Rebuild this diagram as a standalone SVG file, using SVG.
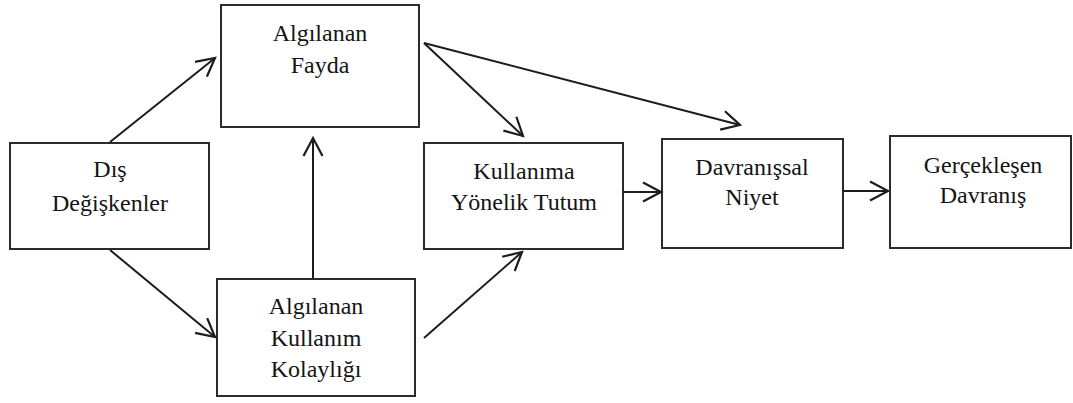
<svg xmlns="http://www.w3.org/2000/svg" width="1073" height="403" viewBox="0 0 1073 403">
  <style>
    .box { fill: #ffffff; stroke: #2b2b2b; stroke-width: 2; }
    .lbl { font-size: 24px; fill: #141414; text-anchor: middle; }
    .edge { fill: none; stroke: #1c1c1c; stroke-width: 2; marker-end: url(#head); }
  </style>
  <defs>
    <marker id="head" markerUnits="userSpaceOnUse" markerWidth="24" markerHeight="24" viewBox="-20 -12 24 24" refX="0" refY="0" orient="auto">
      <path d="M -18 -9.5 L 0 0 L -18 9.5" fill="none" stroke="#1c1c1c" stroke-width="2.2" stroke-linejoin="miter"/>
    </marker>
  </defs>
  <rect width="1073" height="403" fill="#ffffff"/>

  <g font-family="'Liberation Serif', 'Times New Roman', 'DejaVu Serif', serif">
    <g id="dis-degiskenler">
      <rect class="box" x="10" y="143" width="199" height="106"/>
      <text class="lbl" x="110" y="177">Dış</text>
      <text class="lbl" x="110" y="211">Değişkenler</text>
    </g>

    <g id="algilanan-fayda">
      <rect class="box" x="221" y="5" width="198" height="122"/>
      <text class="lbl" x="320" y="41">Algılanan</text>
      <text class="lbl" x="320" y="73">Fayda</text>
    </g>

    <g id="algilanan-kullanim-kolayligi">
      <rect class="box" x="217" y="279" width="198" height="117"/>
      <text class="lbl" x="316" y="314">Algılanan</text>
      <text class="lbl" x="316" y="346">Kullanım</text>
      <text class="lbl" x="316" y="377">Kolaylığı</text>
    </g>

    <g id="kullanima-yonelik-tutum">
      <rect class="box" x="424" y="143" width="199" height="106"/>
      <text class="lbl" x="524" y="179">Kullanıma</text>
      <text class="lbl" x="524" y="210">Yönelik Tutum</text>
    </g>

    <g id="davranissal-niyet">
      <rect class="box" x="662" y="139" width="181" height="109"/>
      <text class="lbl" x="752" y="175">Davranışsal</text>
      <text class="lbl" x="752" y="205">Niyet</text>
    </g>

    <g id="gerceklesen-davranis">
      <rect class="box" x="890" y="136" width="181" height="112"/>
      <text class="lbl" x="983" y="173">Gerçekleşen</text>
      <text class="lbl" x="983" y="203">Davranış</text>
    </g>
  </g>

  <g id="connectors">
    <line class="edge" x1="110" y1="142" x2="215" y2="58"/>
    <line class="edge" x1="110" y1="250" x2="215" y2="337"/>
    <line class="edge" x1="313" y1="278" x2="313" y2="138"/>
    <line class="edge" x1="424" y1="43" x2="523" y2="136"/>
    <line class="edge" x1="424" y1="43" x2="740" y2="125"/>
    <line class="edge" x1="424" y1="338" x2="522" y2="252"/>
    <line class="edge" x1="623" y1="192" x2="661" y2="192"/>
    <line class="edge" x1="843" y1="191" x2="888" y2="191"/>
  </g>
</svg>
